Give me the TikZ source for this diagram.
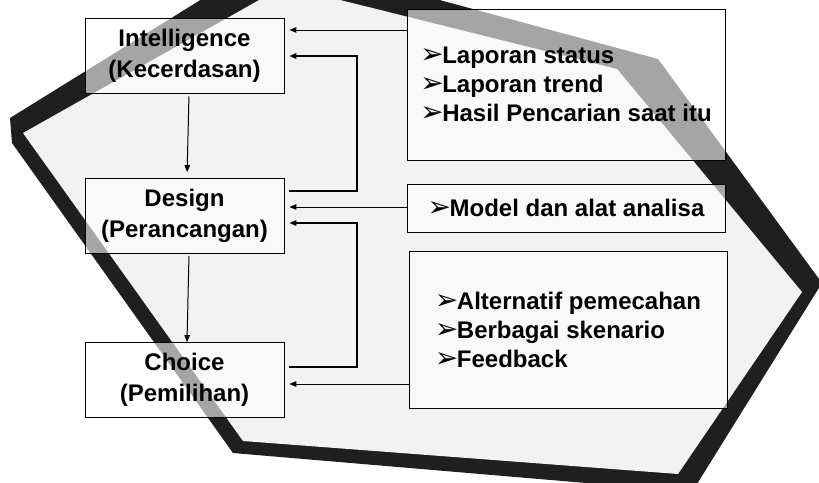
\documentclass[tikz,border=0pt]{standalone}
\usepackage{fontspec}
\setmainfont{Liberation Sans}
\newfontfamily\dingfont{DejaVu Sans}
\usetikzlibrary{arrows.meta}

\newcommand{\pnt}{\raisebox{0pt}[0pt][0pt]{\dingfont\fontsize{28}{28}\selectfont ➢}\kern-1.5pt}

\begin{document}
\begin{tikzpicture}[x = 1pt, y = -1pt, line width = 1pt,
      stage/.style = {draw, line width = 0.8pt, fill = white, fill opacity = 0.6, text opacity = 1,
                      minimum width = 199pt, minimum height = 75pt, align = center,
                      font = \bfseries\fontsize{24}{31}\selectfont},
      info/.style = {draw, line width = 0.8pt, fill = white, fill opacity = 0.6, text opacity = 1,
                     minimum width = 318pt, align = left,
                     font = \bfseries\fontsize{24}{29}\selectfont},
      arr/.style = {-{Triangle[length = 7pt, width = 5.5pt]}},
      back/.style = {arr, line width = 1.6pt, shorten <= 5pt, shorten >= 5pt}]
      \useasboundingbox (0, 0) rectangle (819, 482);
      % slab behind the boxes
      \begin{scope}
        \clip (0, 0) rectangle (819, 482);
        \fill [black!88] (273, -45) -- (658, 59) -- (822, 283) -- (692, 492) -- (233, 453) -- (12, 143) -- (10, 118) -- cycle;
        \fill [black!5] (284, -14) -- (617, 69) -- (802, 292) -- (678, 474) -- (243, 441) -- (23, 133) -- cycle;
      \end{scope}
      % phases
      \node [stage] (intel) at (184.5, 55.5) {Intelligence\\(Kecerdasan)};
      \node [stage] (design) at (184.5, 216) {Design\\(Perancangan)};
      \node [stage] (choice) at (184.5, 380) {Choice\\(Pemilihan)};
      % inputs
      \node [info, minimum height = 151pt] (lap) at (566, 84.5) {\pnt Laporan status\\\pnt Laporan trend\\\pnt Hasil Pencarian saat itu};
      \node [info, minimum height = 48pt] (model) at (566, 208) {\pnt Model dan alat analisa};
      \node [info, minimum height = 157pt] (alt) at (568, 329.5) {\pnt Alternatif pemecahan\\\pnt Berbagai skenario\\\pnt Feedback};
      \coordinate (fb1) at (357, 191);
      \coordinate (fb2) at (357, 367);
      \draw [arr, shorten >= 5pt] (lap.west |- 0, 30) -- (intel.east |- 0, 30);
      \draw [arr, shorten >= 5pt] (model.west |- 0, 207) -- (design.east |- 0, 207);
      \draw [arr, shorten >= 5pt] (alt.west |- 0, 384) -- (choice.east |- 0, 384);
      \draw [back] (design.east |- fb1) -- (fb1) |- (intel.east |- 0, 56);
      \draw [back] (choice.east |- fb2) -- (fb2) |- (design.east |- 0, 223);
      \draw [arr, shorten <= 3pt, shorten >= 6pt] ([xshift = 4.5pt]intel.south) -- ([xshift = 2.5pt]design.north);
      \draw [arr, shorten <= 2pt] ([xshift = 4.5pt]design.south) -- ([xshift = 2.5pt]choice.north);
    \end{tikzpicture}
\end{document}
